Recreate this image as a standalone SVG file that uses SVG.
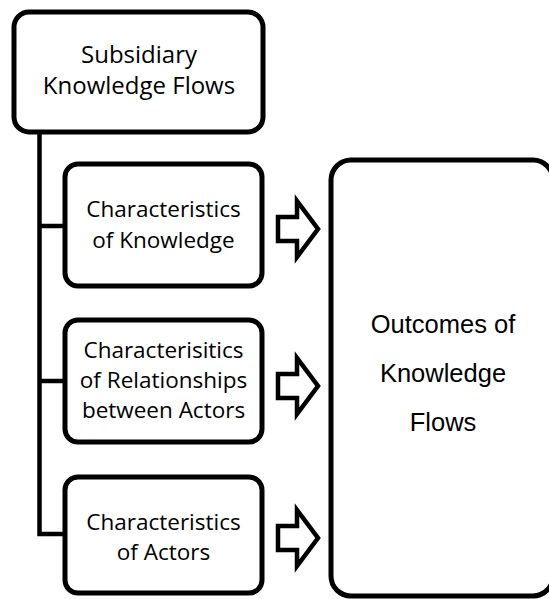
<svg xmlns="http://www.w3.org/2000/svg" width="549" height="599" viewBox="0 0 549 599">
  <style>
    .box { fill: #ffffff; stroke: #000000; stroke-width: 5; }
    .line { fill: none; stroke: #000000; stroke-width: 4.5; }
    .arrow { fill: #ffffff; stroke: #000000; stroke-width: 4.5; stroke-linejoin: miter; }
    .lbl { font-family: "Open Sans", "Noto Sans", sans-serif; fill: #000000; text-anchor: middle; }
    .out { font-family: "Liberation Sans", Arial, sans-serif; font-size: 25.5px; fill: #000000; text-anchor: middle; }
  </style>
  <defs>
    <!-- block arrow pointing right, centred on y = 0 -->
    <path id="blockArrow" class="arrow" d="M278,-12 H297 V-28 L318,0 L297,28 V12 H278 Z"/>
  </defs>

  <!-- tree lines and block arrows -->
  <g id="connectors">
    <path class="line" d="M39.5,132 V534 H65"/>
    <path class="line" d="M39.5,226 H65"/>
    <path class="line" d="M39.5,381 H65"/>
    <use href="#blockArrow" transform="translate(0,229)"/>
    <use href="#blockArrow" transform="translate(0,386)"/>
    <use href="#blockArrow" transform="translate(0,538)"/>
  </g>

  <g id="subsidiary">
    <rect class="box" x="14" y="12" width="249" height="120" rx="15"/>
    <text class="lbl" font-size="24" x="139" y="63">Subsidiary</text>
    <text class="lbl" font-size="24" x="139" y="94">Knowledge Flows</text>
  </g>

  <g id="knowledge">
    <rect class="box" x="65" y="164" width="197" height="122" rx="13"/>
    <text class="lbl" font-size="22.5" x="163.5" y="217">Characteristics</text>
    <text class="lbl" font-size="22.5" x="163.5" y="248">of Knowledge</text>
  </g>

  <g id="relationships">
    <rect class="box" x="65" y="320" width="197" height="122" rx="13"/>
    <text class="lbl" font-size="22.5" x="163.5" y="358">Characterisitics</text>
    <text class="lbl" font-size="22.5" x="163.5" y="388">of Relationships</text>
    <text class="lbl" font-size="22.5" x="163.5" y="418">between Actors</text>
  </g>

  <g id="actors">
    <rect class="box" x="65" y="477" width="197" height="116" rx="13"/>
    <text class="lbl" font-size="22.5" x="163.5" y="530">Characteristics</text>
    <text class="lbl" font-size="22.5" x="163.5" y="560">of Actors</text>
  </g>

  <g id="outcomes">
    <rect class="box" x="331" y="160" width="222" height="436" rx="20"/>
    <text class="out" x="443" y="333">Outcomes of</text>
    <text class="out" x="443" y="382">Knowledge</text>
    <text class="out" x="443" y="431">Flows</text>
  </g>
</svg>
